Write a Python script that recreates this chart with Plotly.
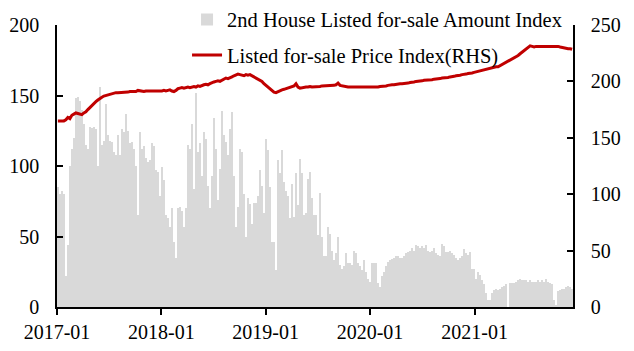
import datetime as dt
import plotly.graph_objects as go

# weekly dates
start = dt.date(2017, 1, 4)
n_weeks = 258
dates = [start + dt.timedelta(days=7 * i) for i in range(n_weeks)]

# 2nd House Listed for-sale Amount Index (LHS), weekly
amount = [
    85, 80, 82, 80, 22, 44, 100, 112, 120, 148,
    149, 146, 140, 130, 115, 112, 128, 127, 128, 126,
    100, 156, 115, 118, 144, 122, 118, 117, 110, 108,
    122, 108, 126, 124, 137, 125, 116, 117, 112, 100,
    65, 124, 112, 114, 106, 103, 104, 116, 114, 97,
    96, 79, 99, 90, 65, 63, 57, 70, 46, 35,
    70, 71, 68, 57, 70, 115, 112, 130, 84, 152,
    110, 116, 93, 124, 119, 86, 70, 93, 134, 112,
    76, 98, 139, 122, 117, 108, 126, 138, 93, 57,
    71, 112, 110, 80, 50, 77, 73, 59, 74, 74,
    79, 97, 86, 67, 119, 111, 85, 46, 46, 26,
    104, 95, 111, 89, 82, 79, 63, 87, 64, 95,
    72, 105, 95, 65, 67, 91, 96, 77, 65, 65,
    51, 81, 50, 36, 36, 57, 52, 40, 33, 38,
    50, 30, 27, 29, 38, 31, 31, 30, 40, 38,
    31, 29, 26, 33, 25, 20, 18, 31, 31, 31,
    17, 14, 22, 25, 29, 32, 33, 34, 35, 36,
    36, 35, 35, 36, 38, 39, 40, 42, 40, 44,
    43, 42, 43, 42, 44, 40, 39, 40, 42, 38,
    37, 36, 45, 43, 39, 39, 40, 38, 37, 35,
    33, 35, 36, 41, 38, 37, 39, 27, 27, 20,
    25, 23, 19, 16, 10, 5, 5, 10, 12, 13,
    12, 13, 14, 15, 16, 0, 17, 17, 17, 18,
    19, 20, 19, 19, 19, 18, 19, 18, 18, 18,
    19, 18, 19, 18, 20, 18, 17, 16, 5, 1,
    11, 12, 13, 13, 14, 15, 14, 13,
]

# Listed for-sale Price Index (RHS), weekly
price = [
    165, 165, 164.5, 165, 166, 168, 167, 170, 171, 172,
    171.5, 171, 170.5, 172, 173, 175, 177, 179, 181, 182,
    183.5, 185, 186, 187, 187.5, 188.5, 189, 189.5, 189.5, 190,
    190, 190, 190.5, 190.5, 190, 190.5, 191, 191, 190.5, 191,
    192, 191.5, 191, 191, 191.5, 191.5, 191, 191.5, 191, 191,
    191.5, 191, 191.5, 192, 191.5, 192, 192.5, 191.5, 191, 192,
    193.5, 194, 194.5, 194, 194.5, 195, 194.5, 195, 195.5, 195,
    196, 195.5, 196.5, 197, 197.5, 197, 198, 199, 199.5, 200,
    200.5, 200, 201, 202, 203, 202.5, 203, 204, 205, 206,
    206.5, 206, 205.5, 205, 206, 205.5, 206, 205, 204, 203.5,
    202, 201, 200, 198, 196.5, 194.5, 193, 191.5, 190.5, 190,
    191, 192, 192.5, 193, 193.5, 194, 194.5, 195.5, 196, 198,
    195, 194, 194.5, 195, 195, 195, 195.5, 195, 195, 195,
    195.5, 195.5, 196, 196, 196, 196, 196.5, 196.5, 196.5, 197,
    198.5, 196.5, 196, 195.5, 195.5, 195, 195, 195, 195, 195,
    194.5, 194.5, 194.5, 195, 195, 195, 195, 195, 195, 195,
    195, 195.5, 195.5, 196, 196, 196.5, 197, 197, 197, 197.5,
    197.5, 198, 198, 198, 198.5, 198.5, 199, 199, 199.5, 200,
    200, 200.5, 200.5, 201, 201, 201, 201.5, 201.5, 202, 202,
    202.5, 202.5, 203, 203, 203.5, 203.5, 204, 204, 204.5, 205,
    205, 205.5, 206, 206, 206.5, 207, 207, 207.5, 208, 208.5,
    209, 209.5, 210, 210, 210.5, 211, 211.5, 212, 212.5, 213,
    213, 214, 215, 216, 217, 217.5, 218.5, 219.5, 220.5, 221.5,
    223, 224.5, 226, 227.5, 229, 230.5, 231.5, 231, 230.5, 231,
    231, 231, 231, 231, 231, 231, 231, 231, 231.5, 231.5,
    231, 230.5, 230, 230, 229.5, 229, 229, 228.5,
]

bar_name = "2nd House Listed for-sale Amount Index"
line_name = "Listed for-sale Price Index(RHS)"

FONT = "Liberation Serif"

fig = go.Figure()
fig.add_trace(go.Bar(
    x=dates, y=amount, name=bar_name, legendgroup="a",
    marker=dict(color="#d9d9d9", line=dict(width=0)),
))
fig.add_trace(go.Scatter(
    x=dates, y=price, name=line_name, yaxis="y2", mode="lines", legendgroup="b",
    line=dict(color="#c00000", width=3),
))

axis_common = dict(
    showline=True, linecolor="black", linewidth=1.5,
    showgrid=False, zeroline=False,
    tickfont=dict(family=FONT, size=20, color="black"),
    tickcolor="black", ticklen=6, tickwidth=1.5,
)

last = dates[-1] + dt.timedelta(days=3.5)
fig.update_layout(
    width=634, height=351,
    margin=dict(l=57, r=61, t=25, b=44, autoexpand=False),
    paper_bgcolor="white", plot_bgcolor="white",
    bargap=0,
    font=dict(family=FONT, size=20, color="black"),
    showlegend=True,
    legend=dict(
        x=0.252, y=1.09, xanchor="left", yanchor="top",
        bgcolor="rgba(0,0,0,0)", font=dict(family=FONT, size=20.5, color="black"),
        traceorder="grouped", tracegroupgap=6,
    ),
    xaxis=dict(
        type="date",
        range=["2017-01-01", last.isoformat()],
        tick0="2017-01-01", dtick="M12", tickformat="%Y-%m",
        ticks="outside",
        **axis_common,
    ),
    yaxis=dict(
        range=[0, 200], dtick=50, ticks="inside",
        ticklabelstandoff=12,
        **axis_common,
    ),
    yaxis2=dict(
        range=[0, 250], dtick=50, ticks="inside",
        overlaying="y", side="right",
        ticklabelstandoff=12,
        **axis_common,
    ),
)

fig.write_html("out.html")
